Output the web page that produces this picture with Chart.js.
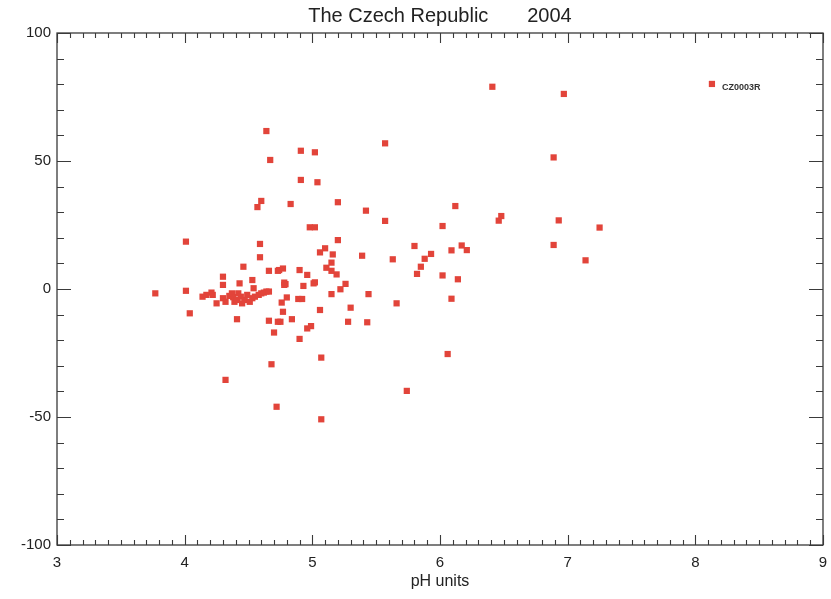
<!DOCTYPE html>
<html>
<head>
<meta charset="utf-8">
<script src="https://cdn.jsdelivr.net/npm/chart.js@4/dist/chart.umd.min.js"></script>
<style>
  html, body { margin: 0; padding: 0; background: #fff; }
  #wrap { width: 831px; height: 599px; }
</style>
</head>
<body>
<div id="wrap"><canvas id="myChart" width="831" height="599"></canvas></div>
<script>
// pH of each station and the value on the y axis
const phValues = [
  3.77, 4.01, 4.01, 4.04, 4.14, 4.17, 4.21, 4.22, 4.25, 4.30,
  4.30, 4.30, 4.32, 4.32, 4.35, 4.37, 4.38, 4.39, 4.41, 4.41,
  4.43, 4.42, 4.44, 4.45, 4.46, 4.47, 4.49, 4.51, 4.53, 4.53,
  4.54, 4.55, 4.58, 4.59, 4.59, 4.60, 4.57, 4.60, 4.62, 4.64,
  4.64, 4.66, 4.66, 4.67, 4.66, 4.68, 4.70, 4.72, 4.73, 4.74,
  4.77, 4.73, 4.75, 4.76, 4.77, 4.78, 4.79, 4.78, 4.80, 4.83,
  4.84, 4.89, 4.92, 4.90, 4.90, 4.91, 4.91, 4.93, 4.96, 4.96,
  4.99, 4.98, 5.01, 5.02, 5.02, 5.02, 5.04, 5.06, 5.06, 5.07,
  5.07, 5.10, 5.11, 5.15, 5.16, 5.15, 5.19, 5.20, 5.20, 5.22,
  5.26, 5.28, 5.30, 5.39, 5.42, 5.43, 5.44, 5.57, 5.57, 5.63,
  5.66, 5.74, 5.80, 5.82, 5.85, 5.88, 5.93, 6.02, 6.02, 6.06,
  6.09, 6.09, 6.12, 6.14, 6.17, 6.21, 6.41, 6.46, 6.48, 6.89,
  6.89, 6.93, 6.97, 7.14, 7.25, 8.13, 5.15
];
const diffValues = [
  -1.7, 18.5, -0.7, -9.5, -3.0, -2.3, -1.4, -2.3, -5.6, 4.8,
  1.6, -3.6, -5.0, -35.5, -2.7, -1.7, -3.2, -5.0, -4.3, -11.8,
  2.2, -1.7, -3.0, -5.6, 8.7, -4.3, -2.3, -5.0, -3.6, 3.5,
  0.3, -3.0, -2.3, 17.6, 12.4, -1.7, 32.0, 34.4, -1.4, -1.0,
  61.7, -1.0, 7.1, 50.4, -12.4, -29.4, -17.0, -46.0, 7.1, 7.4,
  8.0, -12.8, -12.8, -5.3, -8.9, 2.5, 1.9, 1.6, -3.3, 33.2,
  -11.8, -3.9, -3.9, -19.5, 7.4, 54.0, 42.6, 1.2, 5.5, -15.4,
  -14.5, 24.1, 2.2, 2.6, 24.1, 53.4, 41.7, 14.3, -8.2, -26.8,
  -50.9, 15.9, 8.3, 10.3, 13.5, -2.0, 5.7, 19.1, 33.9, -0.1,
  2.0, -12.8, -7.3, 13.0, 30.6, -13.0, -2.0, 56.9, 26.6, 11.6,
  -5.6, -39.8, 16.8, 5.9, 8.7, 11.8, 13.7, 24.6, 5.3, -25.4,
  15.1, -3.8, 32.4, 3.8, 17.0, 15.2, 79.0, 26.7, 28.5, 51.4,
  17.2, 26.8, 76.2, 11.2, 24.0, 80.1, 7.1
];
const labelledStation = { name: 'CZ0003R', ph: 8.13, value: 80.1 };

const titleText = 'The Czech Republic       2004';
const xTickValues = [3, 4, 5, 6, 7, 8, 9];
const yTickValues = [-100, -50, 0, 50, 100];

const points = phValues.map((ph, i) => ({ x: ph, y: diffValues[i] }));

const axisColor = '#3a3a3a';
const pointColor = '#e2443a';
const fontFamily = '"Liberation Sans", Arial, sans-serif';

// frame + inward ticks like the original plot, title over the plot area, station label
const framePlugin = {
  id: 'frame',
  afterDraw(chart) {
    const ctx = chart.ctx;
    const a = chart.chartArea;
    const xs = chart.scales.x;
    const ys = chart.scales.y;
    ctx.save();
    ctx.strokeStyle = axisColor;
    ctx.lineWidth = 1.3;
    ctx.strokeRect(a.left, a.top, a.right - a.left, a.bottom - a.top);

    ctx.lineWidth = 1.1;
    ctx.beginPath();
    for (let i = 0; i <= 60; i++) {
      const v = 3 + i / 10;
      const px = Math.round(xs.getPixelForValue(v)) + 0.5;
      const len = (i % 10 === 0) ? 10 : 5;
      ctx.moveTo(px, a.top); ctx.lineTo(px, a.top + len);
      ctx.moveTo(px, a.bottom); ctx.lineTo(px, a.bottom - len);
    }
    for (let v = -100; v <= 100; v += 10) {
      const py = Math.round(ys.getPixelForValue(v)) + 0.5;
      const len = (v % 50 === 0) ? 14 : 7;
      ctx.moveTo(a.left, py); ctx.lineTo(a.left + len, py);
      ctx.moveTo(a.right, py); ctx.lineTo(a.right - len, py);
    }
    ctx.stroke();

    // title, centred on the plot area
    ctx.fillStyle = '#222';
    ctx.font = '20px ' + fontFamily;
    ctx.textAlign = 'center';
    ctx.textBaseline = 'middle';
    ctx.fillText(titleText, (a.left + a.right) / 2, 16);

    const lx = xs.getPixelForValue(labelledStation.ph);
    const ly = ys.getPixelForValue(labelledStation.value);
    ctx.fillStyle = '#333';
    ctx.font = 'bold 9px ' + fontFamily;
    ctx.textAlign = 'left';
    ctx.fillText(labelledStation.name, lx + 10, ly + 4);
    ctx.restore();
  }
};

const tickFont = { family: fontFamily, size: 15 };

new Chart(document.getElementById('myChart'), {
  type: 'scatter',
  data: {
    datasets: [{
      data: points,
      pointStyle: 'rect',
      pointRadius: 4.4,
      pointHoverRadius: 4.4,
      backgroundColor: pointColor,
      borderColor: pointColor,
      borderWidth: 0
    }]
  },
  options: {
    responsive: false,
    animation: false,
    events: [],
    layout: { padding: { left: 0, right: 8, top: 33, bottom: 0 } },
    plugins: {
      legend: { display: false },
      tooltip: { enabled: false },
      title: { display: false }
    },
    scales: {
      x: {
        type: 'linear',
        min: 3,
        max: 9,
        afterBuildTicks(scale) { scale.ticks = xTickValues.map(v => ({ value: v })); },
        afterFit(scale) {
          scale.height = 54;
          scale.paddingLeft = 0;
          scale.paddingRight = 0;
        },
        grid: { display: false, drawTicks: false },
        border: { display: false },
        ticks: { color: '#222', font: tickFont, padding: 9, maxRotation: 0, autoSkip: false },
        title: {
          display: true,
          text: 'pH units',
          color: '#222',
          font: { family: fontFamily, size: 16 },
          padding: { top: 0, bottom: 8 }
        }
      },
      y: {
        type: 'linear',
        min: -100,
        max: 100,
        afterBuildTicks(scale) { scale.ticks = yTickValues.map(v => ({ value: v })); },
        afterFit(scale) {
          scale.width = 57;
          scale.paddingTop = 0;
          scale.paddingBottom = 0;
        },
        grid: { display: false, drawTicks: false },
        border: { display: false },
        ticks: { color: '#222', font: tickFont, padding: 6 }
      }
    }
  },
  plugins: [framePlugin]
});
</script>
</body>
</html>
